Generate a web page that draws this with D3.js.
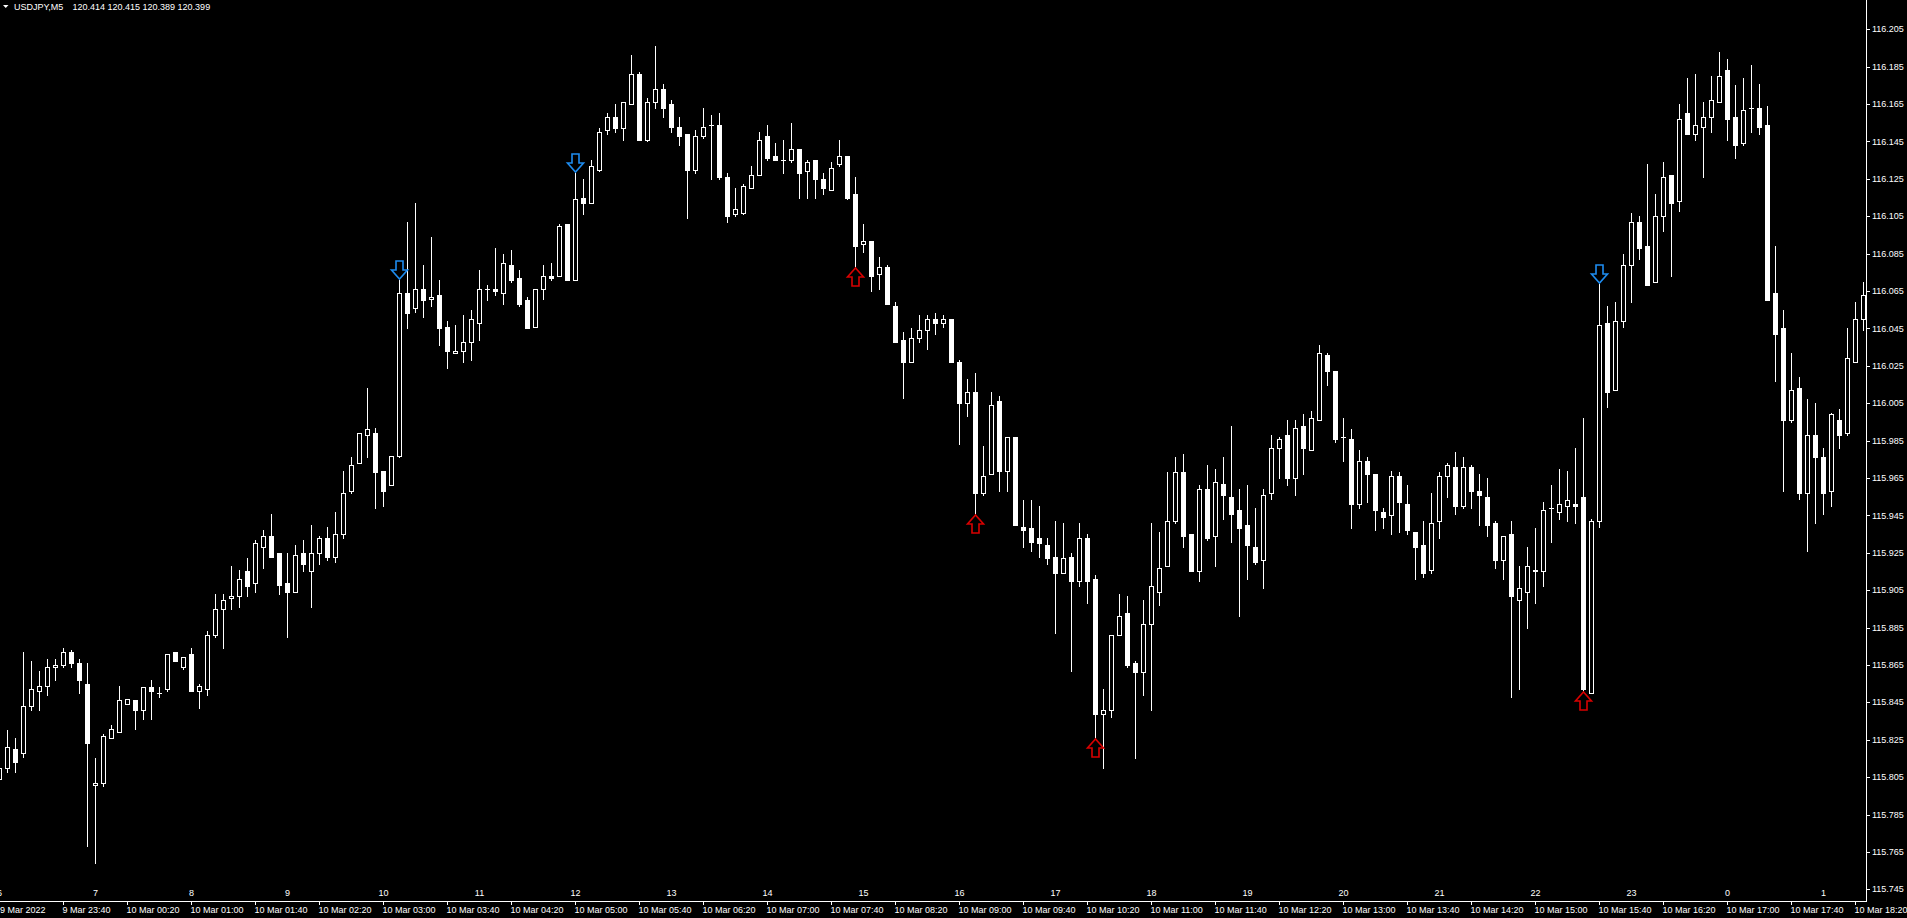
<!DOCTYPE html>
<html>
<head>
<meta charset="utf-8">
<script src="https://cdn.jsdelivr.net/npm/d3@7"></script>
<style>
  html, body { margin: 0; padding: 0; background: #000; overflow: hidden; }
  svg { display: block; }
  text { font-family: "Liberation Sans", Arial, sans-serif; font-size: 9px; fill: #fff; }
</style>
</head>
<body>
<svg id="chart" width="1907" height="918"></svg>
<script>
// ---------------- DATA (USDJPY, M5, from 9 Mar 2022 23:00) ----------------
const symbolTitle = "USDJPY,M5";
const titleQuote = "120.414 120.415 120.389 120.399";
const firstBar = "2022-03-09T23:00:00Z";

const opens = [
115.804,115.810,115.820,115.818,115.843,115.851,115.854,115.864,115.865,115.872,
115.866,115.855,115.801,115.802,115.826,115.829,115.844,115.846,115.841,115.853,
115.850,115.852,115.872,115.864,115.871,115.851,115.852,115.881,115.895,115.901,
115.902,115.915,115.909,115.928,115.934,115.925,115.909,115.904,115.925,115.915,
115.925,115.933,115.923,115.935,115.958,115.973,115.988,115.989,115.969,115.961,
115.977,116.064,116.056,116.066,116.061,116.063,116.046,116.032,116.033,116.038,
116.048,116.066,116.066,116.064,116.079,116.072,116.060,116.046,116.066,116.073,
116.073,116.101,116.071,116.115,116.112,116.130,116.151,116.158,116.152,116.165,
116.181,116.146,116.166,116.173,116.165,116.153,116.149,116.130,116.148,116.154,
116.154,116.126,116.106,116.107,116.120,116.127,116.148,116.137,116.135,116.135,
116.141,116.129,116.135,116.125,116.119,116.133,116.137,116.117,116.090,116.092,
116.074,116.078,116.057,116.039,116.027,116.040,116.044,116.050,116.048,116.050,
116.027,116.005,116.011,115.957,115.967,116.006,115.969,115.987,115.939,115.938,
115.933,115.929,115.923,115.914,115.923,115.910,115.933,115.911,115.839,115.841,
115.881,115.893,115.866,115.861,115.887,115.904,115.918,115.942,115.968,115.935,
115.915,115.959,115.934,115.962,115.955,115.948,115.940,115.928,115.921,115.957,
115.981,115.988,115.965,115.993,115.980,115.996,116.031,116.022,115.987,115.986,
115.951,115.974,115.967,115.947,115.945,115.966,115.951,115.936,115.929,115.916,
115.942,115.966,115.971,115.950,115.971,115.958,115.955,115.941,115.921,115.935,
115.900,115.904,115.915,115.915,115.949,115.947,115.950,115.951,115.955,115.850,
115.942,116.048,116.012,116.049,116.079,116.102,116.089,116.070,116.105,116.127,
116.113,116.160,116.149,116.153,116.158,116.166,116.183,116.158,116.144,116.163,
116.163,116.154,116.064,116.045,115.996,116.013,115.957,115.988,115.976,115.958,
115.996,115.989,116.027,116.050];

const highs = [
115.812,115.830,115.826,115.872,115.867,115.862,115.868,115.868,115.874,115.873,
115.868,115.866,115.815,115.828,115.833,115.854,115.847,115.846,115.853,115.857,
115.853,115.871,115.872,115.869,115.874,115.855,115.883,115.903,115.903,115.918,
115.916,115.922,115.932,115.937,115.946,115.925,115.925,115.929,115.932,115.940,
115.934,115.939,115.947,115.969,115.976,115.989,116.013,115.992,115.969,115.977,
116.071,116.102,116.112,116.079,116.094,116.071,116.049,116.047,116.052,116.055,
116.076,116.068,116.088,116.085,116.087,116.076,116.062,116.066,116.079,116.080,
116.101,116.101,116.128,116.125,116.135,116.152,116.160,116.165,116.166,116.191,
116.182,116.168,116.196,116.176,116.167,116.158,116.149,116.151,116.163,116.159,
116.160,116.128,116.120,116.122,116.132,116.150,116.154,116.144,116.146,116.155,
116.141,116.135,116.135,116.128,116.134,116.146,116.137,116.126,116.101,116.092,
116.083,116.079,116.059,116.043,116.045,116.052,116.052,116.053,116.052,116.050,
116.028,116.018,116.021,115.982,116.011,116.009,115.987,115.987,115.953,115.953,
115.950,115.933,115.942,115.941,115.925,115.941,115.935,115.913,115.852,115.881,
115.903,115.902,115.867,115.900,115.941,115.936,115.968,115.976,115.978,115.935,
115.961,115.972,115.970,115.976,115.993,115.959,115.961,115.949,115.959,115.988,
115.987,115.996,115.996,115.999,116.001,116.036,116.032,116.022,115.997,115.991,
115.980,115.976,115.967,115.949,115.969,115.968,115.961,115.936,115.942,115.957,
115.968,115.973,115.979,115.976,115.972,115.967,115.965,115.942,115.934,115.942,
115.918,115.928,115.938,115.952,115.961,115.970,115.969,115.981,115.997,115.943,
116.069,116.057,116.059,116.085,116.107,116.105,116.133,116.117,116.134,116.127,
116.165,116.179,116.181,116.166,116.180,116.193,116.189,116.175,116.179,116.186,
116.176,116.164,116.089,116.055,116.032,116.019,116.007,116.005,115.981,116.000,
116.002,116.045,116.059,116.070];

const lows = [
115.803,115.808,115.808,115.816,115.841,115.841,115.849,115.857,115.864,115.864,
115.850,115.768,115.759,115.800,115.826,115.829,115.844,115.831,115.836,115.836,
115.848,115.851,115.867,115.863,115.851,115.842,115.849,115.880,115.874,115.895,
115.896,115.902,115.904,115.917,115.923,115.903,115.880,115.904,115.915,115.896,
115.919,115.921,115.920,115.933,115.957,115.973,115.976,115.949,115.950,115.961,
115.976,116.045,116.054,116.051,116.057,116.036,116.024,116.032,116.027,116.028,
116.039,116.060,116.063,116.058,116.070,116.057,116.045,116.046,116.061,116.071,
116.073,116.071,116.071,116.106,116.112,116.129,116.149,116.150,116.146,116.165,
116.146,116.145,116.163,116.158,116.150,116.143,116.104,116.128,116.147,116.125,
116.125,116.102,116.105,116.106,116.120,116.127,116.135,116.135,116.128,116.134,
116.115,116.115,116.115,116.117,116.119,116.132,116.114,116.078,116.086,116.065,
116.066,116.058,116.038,116.008,116.027,116.038,116.034,116.042,116.046,116.027,
115.983,115.998,115.946,115.956,115.967,115.958,115.958,115.940,115.928,115.926,
115.923,115.919,115.882,115.914,115.862,115.907,115.898,115.826,115.810,115.837,
115.881,115.864,115.815,115.849,115.841,115.897,115.918,115.941,115.928,115.915,
115.910,115.932,115.918,115.943,115.931,115.891,115.911,115.919,115.906,115.954,
115.965,115.961,115.956,115.967,115.980,115.996,116.015,115.984,115.974,115.938,
115.949,115.952,115.937,115.938,115.935,115.936,115.935,115.911,115.912,115.914,
115.933,115.955,115.946,115.949,115.949,115.940,115.934,115.917,115.911,115.848,
115.852,115.885,115.898,115.907,115.931,115.943,115.942,115.941,115.851,115.850,
115.939,116.003,116.012,116.046,116.059,116.082,116.068,116.070,116.097,116.073,
116.108,116.149,116.146,116.126,116.150,116.166,116.146,116.136,116.143,116.150,
116.149,116.060,116.017,115.958,115.995,115.954,115.926,115.941,115.946,115.950,
115.981,115.988,116.027,116.044];

const closes = [
115.810,115.821,115.813,115.843,115.852,115.854,115.864,115.865,115.872,115.866,
115.857,115.823,115.802,115.827,115.831,115.846,115.847,115.841,115.853,115.851,
115.850,115.871,115.867,115.869,115.851,115.854,115.881,115.895,115.900,115.902,
115.911,115.907,115.930,115.934,115.923,115.908,115.904,115.924,115.919,115.925,
115.933,115.923,115.935,115.957,115.972,115.989,115.991,115.968,115.958,115.977,
116.064,116.053,116.066,116.060,116.062,116.045,116.033,116.033,116.038,116.050,
116.066,116.066,116.065,116.080,116.071,116.058,116.045,116.066,116.073,116.072,
116.100,116.071,116.114,116.112,116.132,116.150,116.158,116.152,116.166,116.181,
116.146,116.166,116.173,116.163,116.153,116.148,116.130,116.148,116.153,116.154,
116.126,116.105,116.109,116.121,116.127,116.146,116.136,116.135,116.135,116.141,
116.128,116.134,116.125,116.120,116.131,116.137,116.115,116.089,116.092,116.073,
116.078,116.058,116.038,116.027,116.040,116.044,116.050,116.048,116.050,116.027,
116.005,116.011,115.957,115.966,116.004,115.969,115.987,115.940,115.937,115.931,
115.930,115.922,115.914,115.922,115.910,115.933,115.910,115.839,115.841,115.881,
115.891,115.865,115.861,115.887,115.907,115.917,115.942,115.968,115.934,115.915,
115.959,115.933,115.963,115.956,115.946,115.938,115.929,115.920,115.956,115.981,
115.986,115.965,115.992,115.981,115.997,116.032,116.022,115.986,115.987,115.951,
115.974,115.967,115.948,115.944,115.966,115.952,115.937,115.928,115.914,115.941,
115.966,115.972,115.950,115.971,115.958,115.956,115.940,115.921,115.934,115.902,
115.906,115.918,115.916,115.948,115.949,115.951,115.953,115.950,115.852,115.942,
116.047,116.011,116.049,116.079,116.102,116.088,116.068,116.105,116.126,116.112,
116.157,116.149,116.154,116.158,116.167,116.180,116.157,116.143,116.162,116.163,
116.153,116.060,116.042,115.996,116.012,115.957,115.988,115.976,115.957,115.999,
115.988,116.029,116.050,116.063];

// signal arrows (bar times)
const sellSignals = ["2022-03-10T03:10:00Z", "2022-03-10T05:00:00Z", "2022-03-10T15:40:00Z"];
const buySignals  = ["2022-03-10T07:55:00Z", "2022-03-10T09:10:00Z", "2022-03-10T10:25:00Z", "2022-03-10T15:30:00Z"];

// axis labels
const priceTicks = [115.745,115.765,115.785,115.805,115.825,115.845,115.865,115.885,115.905,115.925,
  115.945,115.965,115.985,116.005,116.025,116.045,116.065,116.085,116.105,116.125,
  116.145,116.165,116.185,116.205];
const timeLabels = ["9 Mar 2022","9 Mar 23:40","10 Mar 00:20","10 Mar 01:00","10 Mar 01:40","10 Mar 02:20",
  "10 Mar 03:00","10 Mar 03:40","10 Mar 04:20","10 Mar 05:00","10 Mar 05:40","10 Mar 06:20",
  "10 Mar 07:00","10 Mar 07:40","10 Mar 08:20","10 Mar 09:00","10 Mar 09:40","10 Mar 10:20",
  "10 Mar 11:00","10 Mar 11:40","10 Mar 12:20","10 Mar 13:00","10 Mar 13:40","10 Mar 14:20",
  "10 Mar 15:00","10 Mar 15:40","10 Mar 16:20","10 Mar 17:00","10 Mar 17:40","10 Mar 18:20"];
const hourLabels = ["6","7","8","9","10","11","12","13","14","15","16","17","18","19","20","21","22","23","0","1"];

// ---------------- LAYOUT ----------------
const W = 1907, H = 918;
const plotRight = 1866;    // price-scale border
const plotBottom = 901;    // time-scale border

const svg = d3.select("#chart");

const start = new Date(firstBar);
const barTimes = d3.range(opens.length).map(i => d3.utcMinute.offset(start, 5 * i));
const bars = barTimes.map((t, i) => ({ t, o: opens[i], h: highs[i], l: lows[i], c: closes[i] }));

const x = d3.scaleTime()
  .domain([barTimes[0], barTimes[barTimes.length - 1]])
  .range([-0.5, 8 * (barTimes.length - 1) - 0.5]);
const y = d3.scaleLinear().domain([115.745, 116.205]).range([889.3, 29.3]);

const cxOf = t => Math.floor(x(t) + 1e-6) + 0.5;
const py = v => Math.round(y(v));

svg.append("rect").attr("width", W).attr("height", H).attr("fill", "#000");

svg.append("clipPath").attr("id", "plotclip")
  .append("rect").attr("x", 0).attr("y", 0).attr("width", plotRight).attr("height", plotBottom);

const plot = svg.append("g").attr("clip-path", "url(#plotclip)");

// wicks
plot.append("g").selectAll("rect").data(bars).join("rect")
  .attr("x", d => cxOf(d.t) - 0.5)
  .attr("y", d => py(d.h))
  .attr("width", 1)
  .attr("height", d => Math.max(1, py(d.l) - py(d.h) + 1))
  .attr("fill", "#fff");

// bodies
const bodies = plot.append("g");
bodies.selectAll("rect.bear").data(bars.filter(d => d.c < d.o)).join("rect")
  .attr("class", "bear")
  .attr("x", d => cxOf(d.t) - 2.5)
  .attr("y", d => py(d.o))
  .attr("width", 5)
  .attr("height", d => Math.max(1, py(d.c) - py(d.o) + 1))
  .attr("fill", "#fff");
bodies.selectAll("rect.bull").data(bars.filter(d => d.c > d.o)).join("rect")
  .attr("class", "bull")
  .attr("x", d => cxOf(d.t) - 2)
  .attr("y", d => py(d.c) + 0.5)
  .attr("width", 4)
  .attr("height", d => Math.max(0, py(d.o) - py(d.c)))
  .attr("fill", "#000")
  .attr("stroke", "#fff")
  .attr("stroke-width", 1);
bodies.selectAll("line.doji").data(bars.filter(d => d.c === d.o)).join("line")
  .attr("class", "doji")
  .attr("x1", d => cxOf(d.t) - 2.5)
  .attr("x2", d => cxOf(d.t) + 2.5)
  .attr("y1", d => py(d.o) + 0.5)
  .attr("y2", d => py(d.o) + 0.5)
  .attr("stroke", "#fff");

// signal arrows
const byTime = new Map(bars.map(d => [+d.t, d]));
const downArrow = (cx, tip) =>
  `M${cx - 3.5},${tip - 18}H${cx + 3.5}V${tip - 9}H${cx + 8}L${cx},${tip}L${cx - 8},${tip - 9}H${cx - 3.5}Z`;
const upArrow = (cx, tip) =>
  `M${cx - 3.5},${tip + 18}H${cx + 3.5}V${tip + 9}H${cx + 8}L${cx},${tip}L${cx - 8},${tip + 9}H${cx - 3.5}Z`;

plot.append("g").selectAll("path").data(sellSignals.map(s => byTime.get(+new Date(s)))).join("path")
  .attr("d", d => downArrow(cxOf(d.t), py(d.h) - 1))
  .attr("fill", "none").attr("stroke", "#1e8cf0").attr("stroke-width", 1.6)
  .attr("stroke-linejoin", "miter");
plot.append("g").selectAll("path").data(buySignals.map(s => byTime.get(+new Date(s)))).join("path")
  .attr("d", d => upArrow(cxOf(d.t), py(d.l) + 1))
  .attr("fill", "none").attr("stroke", "#d80000").attr("stroke-width", 1.6)
  .attr("stroke-linejoin", "miter");

// ---------------- AXES ----------------
// price scale border + ticks + labels
svg.append("line").attr("x1", plotRight + 0.5).attr("x2", plotRight + 0.5)
  .attr("y1", 0).attr("y2", plotBottom + 1).attr("stroke", "#fff");
const pAxis = svg.append("g");
pAxis.selectAll("line").data(priceTicks).join("line")
  .attr("x1", plotRight + 1).attr("x2", plotRight + 4)
  .attr("y1", d => py(d) + 0.5).attr("y2", d => py(d) + 0.5)
  .attr("stroke", "#fff");
pAxis.selectAll("text").data(priceTicks).join("text")
  .attr("x", plotRight + 6)
  .attr("y", d => y(d))
  .attr("dy", "0.35em")
  .text(d => d3.format(".3f")(d));

// time scale border + ticks + labels
svg.append("line").attr("x1", 0).attr("x2", plotRight + 1)
  .attr("y1", plotBottom + 0.5).attr("y2", plotBottom + 0.5).attr("stroke", "#fff");
const tickTimes = barTimes.filter((_, i) => i % 8 === 0);
const tAxis = svg.append("g");
tAxis.selectAll("line").data(tickTimes).join("line")
  .attr("x1", d => cxOf(d)).attr("x2", d => cxOf(d))
  .attr("y1", plotBottom + 1).attr("y2", plotBottom + 4)
  .attr("stroke", "#fff");
tAxis.selectAll("text").data(tickTimes).join("text")
  .attr("x", d => Math.max(0, cxOf(d) - 1))
  .attr("y", plotBottom + 9)
  .attr("dy", "0.35em")
  .text((d, i) => timeLabels[i]);

// hour markers above the time scale
const hourTimes = barTimes.filter((_, i) => i % 12 === 0);
svg.append("g").selectAll("text").data(hourTimes).join("text")
  .attr("x", d => cxOf(d))
  .attr("y", plotBottom - 8)
  .attr("dy", "0.35em")
  .attr("text-anchor", "middle")
  .text((d, i) => hourLabels[i]);

// ---------------- HEADER ----------------
svg.append("path").attr("d", "M3,5H8.5L5.75,8Z").attr("fill", "#fff");
svg.append("text").attr("x", 14).attr("y", 7).attr("dy", "0.35em").text(symbolTitle);
svg.append("text").attr("x", 72.5).attr("y", 7).attr("dy", "0.35em").text(titleQuote);
</script>
</body>
</html>
